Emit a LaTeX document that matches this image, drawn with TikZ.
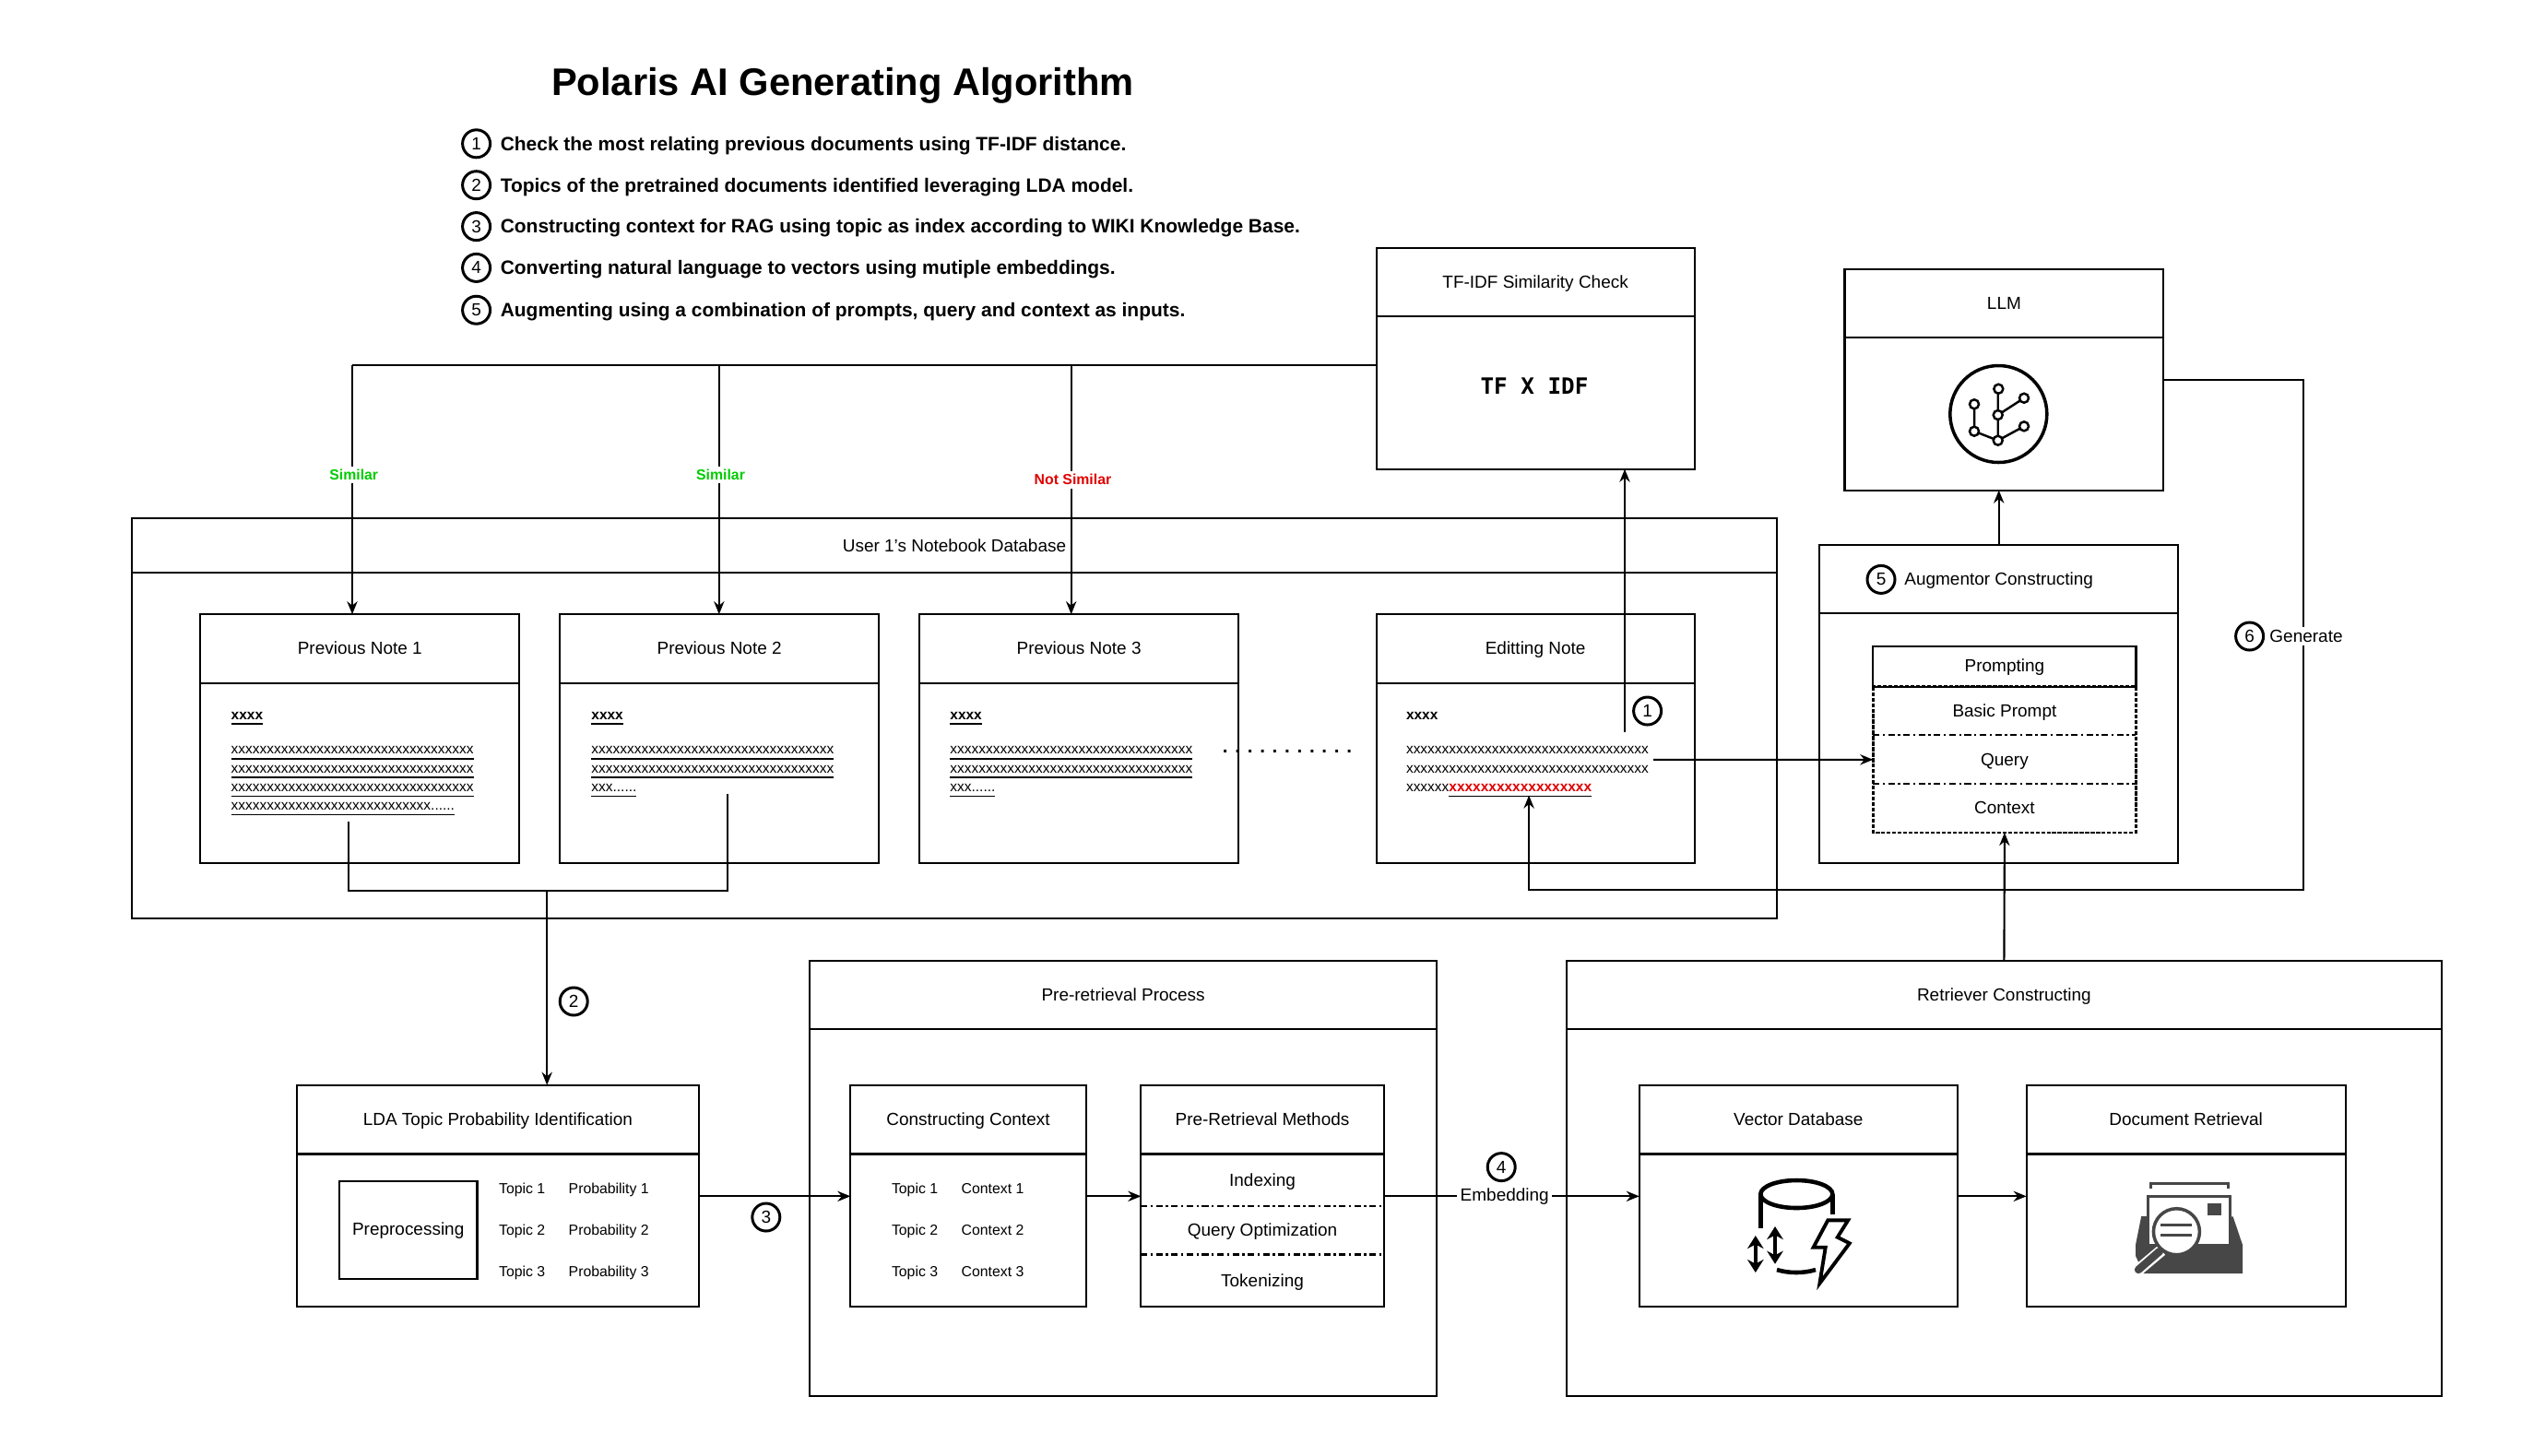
\documentclass[tikz,border=0pt]{standalone}
\usepackage{fontspec}
\setmainfont{Liberation Sans}
\newfontfamily\tfidffont{DejaVu Sans Mono}
\usetikzlibrary{positioning,arrows.meta,calc,shapes.geometric}
\definecolor{colSimilar}{HTML}{00CC00}
\definecolor{colNotSimilar}{HTML}{E00000}
\colorlet{colIcon}{black!72}
\newcommand{\fsTitle}{\fontsize{11.85}{14}\selectfont}
\newcommand{\fsHead}{\fontsize{5.4}{6.5}\selectfont}
\newcommand{\fsStep}{\fontsize{5.96}{7}\selectfont}
\newcommand{\fsSmall}{\fontsize{4.5}{5.5}\selectfont}
\newcommand{\fsNote}{\fontsize{4.4}{5.76}\selectfont}
\newcommand{\xline}{xxxxxxxxxxxxxxxxxxxxxxxxxxxxxxxxxx}

\begin{document}
\begin{tikzpicture}[
        headbox/.style={draw, line width=0.6pt, outer sep=0pt, align=center, font=\fsHead, text height=4.5pt, text depth=0.9pt},
        bodybox/.style={draw, line width=0.6pt, outer sep=0pt},
        numc/.style={draw, circle, line width=0.85pt, inner sep=0pt, minimum size=0.3cm, font=\fsHead, fill=white},
        steptxt/.style={font=\fsStep\bfseries, inner sep=0pt, text height=4.8pt, text depth=1.2pt, yshift=-0.3pt},
        lbl/.style={fill=white, inner sep=1pt, font=\fsHead},
        simlbl/.style={fill=white, inner sep=1pt, font=\fsSmall\bfseries},
        arr/.style={-{Stealth[length=4pt,width=3.2pt]}, line width=0.6pt},
        line/.style={line width=0.6pt},
        small/.style={font=\fsSmall, inner sep=0pt, anchor=west, text height=3.4pt, text depth=0.9pt},
        notetxt/.style={font=\fsNote, inner sep=0pt, align=left, anchor=north west},
        notetitle/.style={font=\fsNote\bfseries, inner sep=0pt, anchor=base west},
        rowtxt/.style={font=\fsHead, inner sep=0pt, outer sep=0pt, text height=4.5pt, text depth=0.9pt}
    ]
        \useasboundingbox (0,0) rectangle (27.6,-15.78);

        % --- TITLE AND STEPS ---
        \node[font=\fsTitle\bfseries] (title) at (9.14,-0.933) {Polaris AI Generating Algorithm};
        \foreach \n/\y/\t in {1/-1.558/{Check the most relating previous documents using TF-IDF distance.},
                              2/-2.007/{Topics of the pretrained documents identified leveraging LDA model.},
                              3/-2.456/{Constructing context for RAG using topic as index according to WIKI Knowledge Base.},
                              4/-2.904/{Converting natural language to vectors using mutiple embeddings.},
                              5/-3.362/{Augmenting using a combination of prompts, query and context as inputs.}} {
            \node[numc] (step\n) at (5.166,\y) {\n};
            \node[steptxt, right=0.09cm of step\n] (stepTxt\n) {\t};
        }

        % --- TF-IDF ---
        \node[headbox, minimum width=3.45cm, minimum height=0.74cm] (tfHead) at (16.651,-3.062) {TF-IDF Similarity Check};
        \node[bodybox, minimum width=3.45cm, minimum height=1.655cm, below=0pt of tfHead] (tfBody) {};
        \node[font=\tfidffont\fontsize{6.9}{8}\selectfont\bfseries] (tfFormula) at (16.64,-4.19) {TF X IDF};

        % --- LLM ---
        \node[headbox, minimum width=3.459cm, minimum height=0.74cm] (llmHead) at (21.734,-3.291) {LLM};
        \node[bodybox, minimum width=3.459cm, minimum height=1.655cm, below=0pt of llmHead] (llmBody) {};
        % network icon
        \draw[line width=1pt] (21.673,-4.49) circle (0.525);
        \draw[line width=0.7pt] (21.667,-4.217) -- (21.667,-4.777) -- (21.41,-4.677) -- (21.41,-4.383)
            (21.667,-4.5) -- (21.95,-4.317) (21.667,-4.777) -- (21.95,-4.623);
        \foreach \cx/\cy in {21.673/-4.217,21.95/-4.317,21.41/-4.383,21.667/-4.5,21.95/-4.623,21.41/-4.677,21.667/-4.777}
            \draw[line width=0.7pt, fill=white] (\cx,\cy) circle (0.05);

        % --- NOTEBOOK ---
        \node[headbox, minimum width=17.848cm, minimum height=0.59cm] (bookHead) at (10.35,-5.919) {User 1's Notebook Database};
        \node[bodybox, minimum width=17.848cm, minimum height=3.749cm, below=0pt of bookHead] (bookBody) {};

        \node[headbox, minimum width=3.459cm, minimum height=0.748cm] (noteHeadA) at (3.903,-7.036) {Previous Note 1};
        \node[bodybox, minimum width=3.459cm, minimum height=1.954cm, below=0pt of noteHeadA] (noteBodyA) {};
        \node[headbox, minimum width=3.459cm, minimum height=0.748cm] (noteHeadB) at (7.802,-7.036) {Previous Note 2};
        \node[bodybox, minimum width=3.459cm, minimum height=1.954cm, below=0pt of noteHeadB] (noteBodyB) {};
        \node[headbox, minimum width=3.459cm, minimum height=0.748cm] (noteHeadC) at (11.701,-7.036) {Previous Note 3};
        \node[bodybox, minimum width=3.459cm, minimum height=1.954cm, below=0pt of noteHeadC] (noteBodyC) {};
        \node[headbox, minimum width=3.45cm, minimum height=0.748cm] (noteHeadE) at (16.651,-7.036) {Editting Note};
        \node[bodybox, minimum width=3.45cm, minimum height=1.954cm, below=0pt of noteHeadE] (noteBodyE) {};

        % note texts
        \node[notetitle] (titleA) at (2.5,-7.80) {\underline{xxxx}};
        \node[notetxt] (textA) at (2.5,-8.09) {\underline{\xline}\\\underline{\xline}\\\underline{\xline}\\\underline{xxxxxxxxxxxxxxxxxxxxxxxxxxxx......}};
        \node[notetitle] (titleB) at (6.407,-7.80) {\underline{xxxx}};
        \node[notetxt] (textB) at (6.407,-8.09) {\underline{\xline}\\\underline{\xline}\\\underline{xxx......}};
        \node[notetitle] (titleC) at (10.297,-7.80) {\underline{xxxx}};
        \node[notetxt] (textC) at (10.297,-8.09) {\underline{\xline}\\\underline{\xline}\\\underline{xxx......}};
        \node[notetitle] (titleE) at (15.243,-7.80) {xxxx};
        \node[notetxt] (textE) at (15.243,-8.09) {\xline\\\xline\\xxxxxx\underline{\textcolor{colNotSimilar}{\textbf{xxxxxxxxxxxxxxxxxx}}}};
        \node[font=\fontsize{5.9}{7}\selectfont\bfseries, inner sep=0pt] (noteDots) at (13.96,-8.15) {. . . . . . . . . . .};

        % --- AUGMENTOR ---
        \node[headbox, minimum width=3.89cm, minimum height=0.74cm] (augHead) at (21.677,-6.284) {Augmentor Constructing};
        \node[bodybox, minimum width=3.89cm, minimum height=2.71cm, below=0pt of augHead] (augBody) {};
        \node[numc] (stepAug) at (20.40,-6.284) {5};

        \node[headbox, minimum width=2.851cm, minimum height=0.44cm] (promptHead) at (21.739,-7.226) {Prompting};
        \node[rowtxt, minimum width=2.851cm, minimum height=0.528cm, below=0pt of promptHead] (promptBasic) {Basic Prompt};
        \node[rowtxt, minimum width=2.851cm, minimum height=0.528cm, below=0pt of promptBasic] (promptQuery) {Query};
        \node[rowtxt, minimum width=2.851cm, minimum height=0.528cm, below=0pt of promptQuery] (promptContext) {Context};
        \draw[dash pattern=on 1.2pt off 0.5pt, line width=0.65pt] (promptBasic.north west) rectangle (promptContext.south east);
        \draw[dash pattern=on 2pt off 1pt on 0.7pt off 1pt, line width=0.6pt] (promptBasic.south west) -- (promptBasic.south east);
        \draw[dash pattern=on 2pt off 1pt on 0.7pt off 1pt, line width=0.6pt] (promptQuery.south west) -- (promptQuery.south east);

        % --- LDA ---
        \node[headbox, minimum width=4.357cm, minimum height=0.748cm] (ldaHead) at (5.399,-12.141) {LDA Topic Probability Identification};
        \node[bodybox, minimum width=4.357cm, minimum height=1.655cm, below=0pt of ldaHead] (ldaBody) {};
        \node[bodybox, font=\fsHead, minimum width=1.496cm, minimum height=1.056cm, inner sep=0pt] (prepro) at (4.427,-13.342) {Preprocessing};
        \foreach \i/\y in {1/-12.905,2/-13.354,3/-13.803} {
            \node[small] (ldaTopic\i) at (5.404,\y) {Topic \i};
            \node[small] (ldaProb\i) at (6.16,\y) {Probability \i};
        }

        % --- PRE-RETRIEVAL ---
        \node[headbox, minimum width=6.795cm, minimum height=0.74cm] (preHead) at (12.181,-10.79) {Pre-retrieval Process};
        \node[bodybox, minimum width=6.795cm, minimum height=3.978cm, below=0pt of preHead] (preBody) {};

        \node[headbox, minimum width=2.553cm, minimum height=0.748cm] (ctxHead) at (10.5,-12.141) {Constructing Context};
        \node[bodybox, minimum width=2.553cm, minimum height=1.655cm, below=0pt of ctxHead] (ctxBody) {};
        \foreach \i/\y in {1/-12.905,2/-13.354,3/-13.803} {
            \node[small] (ctxTopic\i) at (9.663,\y) {Topic \i};
            \node[small] (ctxText\i) at (10.42,\y) {Context \i};
        }

        \node[headbox, minimum width=2.632cm, minimum height=0.748cm] (methHead) at (13.69,-12.141) {Pre-Retrieval Methods};
        \node[bodybox, minimum width=2.632cm, minimum height=1.655cm, below=0pt of methHead] (methBody) {};
        \node[rowtxt, minimum width=2.632cm, minimum height=0.563cm, below=0pt of methHead] (methIndex) {Indexing};
        \node[rowtxt, minimum width=2.632cm, minimum height=0.528cm, below=0pt of methIndex] (methQuery) {Query Optimization};
        \node[rowtxt, minimum width=2.632cm, minimum height=0.564cm, below=0pt of methQuery] (methToken) {Tokenizing};
        \draw[dash pattern=on 2pt off 1pt on 0.7pt off 1pt, line width=0.65pt] (methIndex.south west) -- (methIndex.south east);
        \draw[dash pattern=on 2pt off 1pt on 0.7pt off 1pt, line width=0.65pt] (methQuery.south west) -- (methQuery.south east);

        % --- RETRIEVER ---
        \node[headbox, minimum width=9.496cm, minimum height=0.74cm] (retrHead) at (21.734,-10.79) {Retriever Constructing};
        \node[bodybox, minimum width=9.496cm, minimum height=3.978cm, below=0pt of retrHead] (retrBody) {};

        \node[headbox, minimum width=3.45cm, minimum height=0.748cm] (vecHead) at (19.503,-12.141) {Vector Database};
        \node[bodybox, minimum width=3.45cm, minimum height=1.655cm, below=0pt of vecHead] (vecBody) {};
        % database icon
        \draw[line width=1.3pt] (19.483,-12.95) ellipse (0.39 and 0.15);
        \draw[line width=1.3pt] (19.093,-12.95) -- (19.093,-13.317) (19.873,-12.95) -- (19.873,-13.167);
        \draw[line width=1.3pt] (19.27,-13.77) .. controls (19.4,-13.81) and (19.56,-13.81) .. (19.69,-13.77);
        \draw[{Stealth[length=4pt,width=5pt]}-{Stealth[length=4pt,width=5pt]}, line width=1.2pt] (19.038,-13.40) -- (19.038,-13.80);
        \draw[{Stealth[length=4pt,width=5pt]}-{Stealth[length=4pt,width=5pt]}, line width=1.2pt] (19.25,-13.30) -- (19.25,-13.707);
        \draw[line width=1.1pt, line join=miter, fill=white] (19.823,-13.233) -- (20.042,-13.233) -- (19.927,-13.417) -- (20.058,-13.483)
            -- (19.734,-13.917) -- (19.797,-13.527) -- (19.666,-13.527) -- cycle;

        \node[headbox, minimum width=3.459cm, minimum height=0.748cm] (docHead) at (23.706,-12.141) {Document Retrieval};
        \node[bodybox, minimum width=3.459cm, minimum height=1.655cm, below=0pt of docHead] (docBody) {};
        % retrieval icon
        \fill[colIcon] (23.222,-13.19) -- (23.16,-13.5) -- (23.16,-13.62) -- (23.248,-13.81) -- (24.32,-13.81) -- (24.32,-13.5) -- (24.216,-13.193) -- cycle;
        \draw[colIcon, line width=0.85pt, fill=white] (23.29,-12.97) rectangle (24.18,-13.5);
        \draw[colIcon, line width=0.85pt] (23.32,-12.89) -- (23.32,-12.83) -- (24.16,-12.83) -- (24.16,-12.89);
        \fill[colIcon] (23.944,-13.05) rectangle (24.085,-13.183);
        \draw[white, line width=3.6pt] (23.44,-13.56) -- (23.19,-13.77);
        \draw[colIcon, line width=2.4pt, line cap=round] (23.42,-13.57) -- (23.19,-13.77);
        \draw[colIcon, line width=1pt, fill=white] (23.604,-13.357) circle (0.25);
        \draw[colIcon, line width=0.85pt] (23.43,-13.283) -- (23.77,-13.283) (23.43,-13.393) -- (23.77,-13.393);

        % --- FREE ENDS OF THE CONNECTORS ---
        \coordinate (simBus) at (3.82,-3.96);
        \coordinate (simTwo) at (7.798,-3.96);
        \coordinate (simThree) at (11.617,-3.96);
        \coordinate (editUp) at (17.62,-7.94);
        \coordinate (editOut) at (17.93,-8.238);
        \coordinate (editIn) at (16.581,-8.625);
        \coordinate (genTurn) at (24.977,-4.119);
        \coordinate (genBottom) at (24.977,-9.646);
        \coordinate (noteOne) at (3.784,-8.907);
        \coordinate (noteTwo) at (7.886,-8.607);
        \coordinate (mergeBus) at (5.932,-9.663);
        \coordinate (flowY) at (0,-12.973);

        % --- CONNECTORS ---
        \draw[line] (tfBody.west |- simBus) -- (simBus);
        \draw[arr] (simBus) -- node[simlbl, text=colSimilar, pos=0.44, xshift=0.5pt] (simLabA) {Similar} (simBus |- noteHeadA.north);
        \draw[arr] (simTwo) -- node[simlbl, text=colSimilar, pos=0.44, xshift=0.5pt] (simLabB) {Similar} (simTwo |- noteHeadB.north);
        \draw[arr] (simThree) -- node[simlbl, text=colNotSimilar, pos=0.46, xshift=0.5pt] (simLabC) {Not Similar} (simThree |- noteHeadC.north);
        \draw[arr] (editUp) -- (editUp |- tfBody.south);
        \node[numc] (stepEdit) at (17.866,-7.71) {1};
        \draw[arr] (editOut) -- (promptQuery.west);
        \draw[arr] (augHead.north) -- (augHead.north |- llmBody.south);
        \draw[arr] (retrHead.north) -- (promptContext.south);
        \draw[arr] (llmBody.east |- genTurn) -- (genTurn) -- (genBottom) -- (genBottom -| editIn) -- (editIn);
        \node[lbl] (genLbl) at (25.01,-6.9) {Generate};
        \node[numc] (stepGen) at (24.396,-6.9) {6};

        \draw[line] (noteOne) -- (noteOne |- mergeBus) -- (noteTwo |- mergeBus) -- (noteTwo);
        \draw[arr] (mergeBus) -- (mergeBus |- ldaHead.north);
        \node[numc] (stepLda) at (6.222,-10.86) {2};

        \draw[arr] (ldaBody.east |- flowY) -- (ctxBody.west |- flowY);
        \node[numc] (stepCtx) at (8.308,-13.2) {3};
        \draw[arr] (ctxBody.east |- flowY) -- (methBody.west |- flowY);
        \draw[arr] (methBody.east |- flowY) -- node[lbl, pos=0.473] (embedLbl) {Embedding} (vecBody.west |- flowY);
        \node[numc] (stepEmbed) at (16.282,-12.656) {4};
        \draw[arr] (vecBody.east |- flowY) -- (docBody.west |- flowY);
    \end{tikzpicture}
\end{document}
